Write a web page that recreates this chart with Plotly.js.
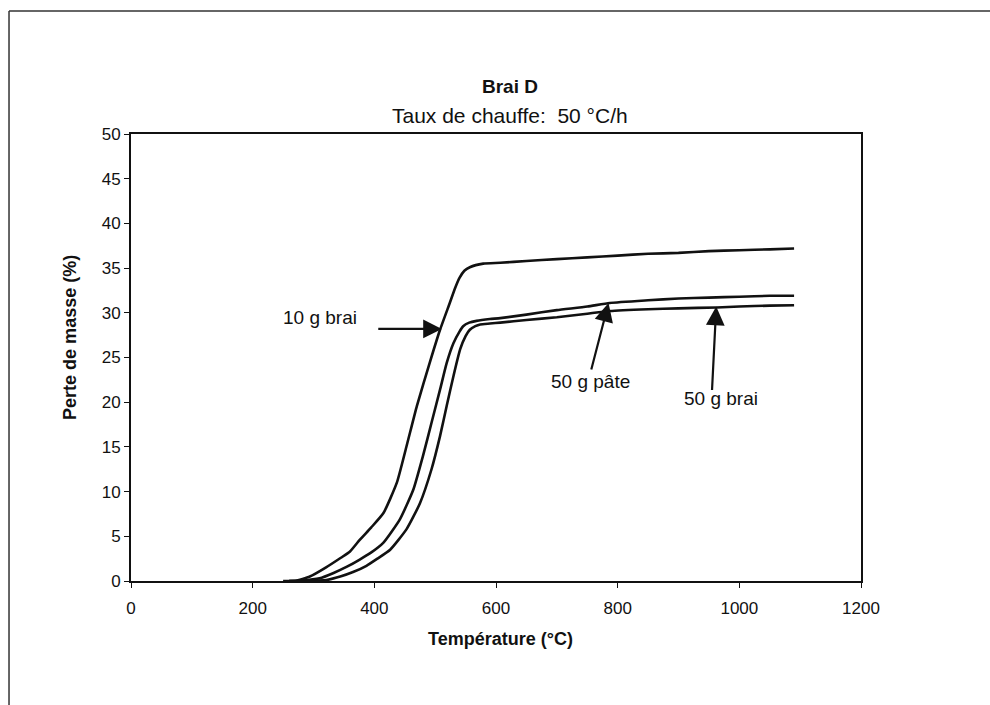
<!DOCTYPE html>
<html>
<head>
<meta charset="utf-8">
<script src="https://cdn.plot.ly/plotly-3.0.1.min.js"></script>
<style>
html,body{margin:0;padding:0;background:#fff;}
#chart{width:990px;height:705px;}
</style>
</head>
<body>
<div id="chart"></div>
<script>
// 10 g brai
const tBrai10 = [250, 270, 294, 320, 345, 360, 376, 395, 415, 437, 453, 470, 491, 508, 524, 533, 540, 548, 557, 579, 607, 650, 700, 750, 800, 850, 900, 950, 1000, 1050, 1090];
const pBrai10 = [0, 0, 0.5, 1.5, 2.6, 3.3, 4.6, 6.0, 7.6, 11.0, 15.1, 19.6, 24.4, 28.1, 31.1, 32.8, 33.9, 34.7, 35.1, 35.5, 35.6, 35.8, 36.0, 36.2, 36.4, 36.6, 36.7, 36.9, 37.0, 37.1, 37.2];
// 50 g pâte
const tPate50 = [260, 280, 310, 333, 355, 376, 395, 415, 442, 464, 480, 494, 508, 519, 530, 540, 546, 556, 568, 590, 607, 650, 700, 750, 787, 850, 900, 950, 1000, 1050, 1090];
const pPate50 = [0, 0.05, 0.3, 0.9, 1.6, 2.4, 3.2, 4.3, 6.9, 10.2, 14.0, 17.7, 21.4, 24.4, 26.6, 27.9, 28.5, 28.9, 29.1, 29.3, 29.4, 29.8, 30.3, 30.7, 31.1, 31.4, 31.6, 31.7, 31.8, 31.9, 31.9];
// 50 g brai
const tBrai50 = [260, 290, 321, 344, 365, 387, 405, 426, 453, 475, 494, 508, 519, 530, 541, 550, 557, 566, 574, 590, 607, 650, 700, 750, 787, 850, 900, 963, 1000, 1050, 1090];
const pBrai50 = [0, 0.02, 0.1, 0.5, 1.0, 1.7, 2.5, 3.5, 5.8, 8.7, 12.5, 16.2, 19.6, 22.9, 25.9, 27.4, 28.1, 28.5, 28.7, 28.8, 28.9, 29.2, 29.5, 29.9, 30.2, 30.4, 30.5, 30.6, 30.7, 30.8, 30.85];

const seriesNames = ["10 g brai", "50 g pâte", "50 g brai"];
const titleText = "Brai D";
const subtitleText = "Taux de chauffe:  50 °C/h";
const xTitle = "Température (°C)";
const yTitle = "Perte de masse (%)";
const xTicks = [0, 200, 400, 600, 800, 1000, 1200];
const yTicks = [0, 5, 10, 15, 20, 25, 30, 35, 40, 45, 50];

// arrow annotations
const arrowLabels = ["10 g brai", "50 g pâte", "50 g brai"];
const arrowHeadT = [511, 785, 962];
const arrowHeadP = [28.2, 31.1, 30.7];
const arrowTailT = [404, 756, 955];
const arrowTailP = [28.2, 23.5, 21.2];
const labelT = [311, 755, 970];
const labelP = [29.5, 22.3, 20.4];

const FONT = "Arial, 'Liberation Sans', sans-serif";
const lineStyle = {color: "#111", width: 2.6, shape: "spline", smoothing: 0.5};

const traces = [
  {x: tBrai10, y: pBrai10, name: seriesNames[0], mode: "lines", line: lineStyle},
  {x: tPate50, y: pPate50, name: seriesNames[1], mode: "lines", line: lineStyle},
  {x: tBrai50, y: pBrai50, name: seriesNames[2], mode: "lines", line: lineStyle}
];

const annotations = [];
for (let i = 0; i < arrowLabels.length; i++) {
  annotations.push({
    x: arrowHeadT[i], y: arrowHeadP[i], xref: "x", yref: "y",
    ax: arrowTailT[i], ay: arrowTailP[i], axref: "x", ayref: "y",
    text: "", showarrow: true, arrowhead: 2, arrowsize: 1.7, arrowwidth: 2.2, arrowcolor: "#111"
  });
  annotations.push({
    x: labelT[i], y: labelP[i], xref: "x", yref: "y", xanchor: "center", yanchor: "middle",
    text: arrowLabels[i], showarrow: false,
    font: {family: FONT, size: 19, color: "#111"}
  });
}
annotations.push({x: 0.519, y: 1.107, xref: "paper", yref: "paper", xanchor: "center", yanchor: "middle",
  text: "<b>" + titleText + "</b>", showarrow: false, font: {family: FONT, size: 19, color: "#111"}});
annotations.push({x: 0.519, y: 1.0425, xref: "paper", yref: "paper", xanchor: "center", yanchor: "middle",
  text: subtitleText, showarrow: false, font: {family: FONT, size: 21, color: "#111"}});
annotations.push({x: 0.5055, y: -0.1307, xref: "paper", yref: "paper", xanchor: "center", yanchor: "middle",
  text: "<b>" + xTitle + "</b>", showarrow: false, font: {family: FONT, size: 18, color: "#111"}});
annotations.push({x: -0.0836, y: 0.546, xref: "paper", yref: "paper", xanchor: "center", yanchor: "middle",
  text: "<b>" + yTitle + "</b>", showarrow: false, textangle: -90, font: {family: FONT, size: 18, color: "#111"}});

const layout = {
  width: 990, height: 705,
  margin: {l: 131, r: 129, t: 134, b: 123.5, pad: 0},
  paper_bgcolor: "#fff", plot_bgcolor: "#fff",
  showlegend: false,
  font: {family: FONT, size: 17, color: "#111"},
  xaxis: {
    range: [0, 1200], tickvals: xTicks, ticktext: xTicks.map(String),
    showgrid: false, zeroline: false, showline: true, mirror: true,
    linecolor: "#111", linewidth: 2, ticks: "outside", ticklen: 5, tickwidth: 1, tickcolor: "#111",
    tickfont: {family: FONT, size: 17, color: "#111"}, ticklabelstandoff: 6
  },
  yaxis: {
    range: [0, 50], tickvals: yTicks, ticktext: yTicks.map(String),
    showgrid: false, zeroline: false, showline: true, mirror: true,
    linecolor: "#111", linewidth: 2, ticks: "outside", ticklen: 5, tickwidth: 1, tickcolor: "#111",
    tickfont: {family: FONT, size: 17, color: "#111"}, ticklabelstandoff: 0
  },
  annotations: annotations,
  shapes: [
    {type: "line", xref: "paper", yref: "paper", x0: -0.1671, x1: -0.1671, y0: 1.2749, y1: -0.3,
      line: {color: "#333", width: 1.5}},
    {type: "line", xref: "paper", yref: "paper", x0: -0.1671, x1: 1.2, y0: 1.2749, y1: 1.2749,
      line: {color: "#333", width: 1.5}}
  ]
};

Plotly.newPlot("chart", traces, layout, {displayModeBar: false, staticPlot: true});
</script>
</body>
</html>
